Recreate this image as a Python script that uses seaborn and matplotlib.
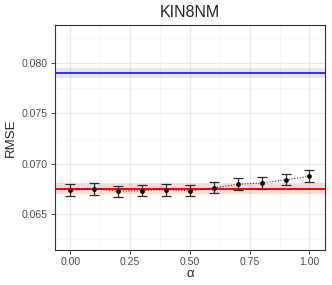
import numpy as np
import pandas as pd
import seaborn as sns
import matplotlib.pyplot as plt
from matplotlib.ticker import MultipleLocator

alpha_vals = [0.0, 0.1, 0.2, 0.3, 0.4, 0.5, 0.6, 0.7, 0.8, 0.9, 1.0]
rmse_mean = [0.06735, 0.06751, 0.06725, 0.06732, 0.06742, 0.06728, 0.06758, 0.06794, 0.06808, 0.06838, 0.06874]
rmse_err = [0.0006, 0.0006, 0.00055, 0.00055, 0.0006, 0.00055, 0.00055, 0.0006, 0.0006, 0.00055, 0.00058]

blue_ref = 0.07904
blue_band = 0.0005
red_ref = 0.06751
red_band = 0.00055

df = pd.DataFrame({"alpha": alpha_vals, "rmse": rmse_mean, "err": rmse_err})

sns.set_theme(style="whitegrid")
plt.rcParams['font.family'] = ['Liberation Sans', 'DejaVu Sans']

fig = plt.figure(figsize=(3.32, 2.85), dpi=100)
ax = fig.add_axes([0.1657, 0.1228, 0.8133, 0.7895])

# lignes de reference avec leur bande
ax.axhspan(blue_ref - blue_band, blue_ref + blue_band, color="blue", alpha=0.1, lw=0, zorder=1)
ax.axhline(blue_ref, color="blue", lw=1.1, zorder=2)
ax.axhspan(red_ref - red_band, red_ref + red_band, color="red", alpha=0.15, lw=0, zorder=1)
ax.axhline(red_ref, color="red", lw=1.4, zorder=2)

sns.lineplot(data=df, x="alpha", y="rmse", ax=ax, color="black", lw=0.8,
             linestyle=(0, (1, 1.5)), zorder=3, alpha=0.8)
ax.errorbar(df["alpha"], df["rmse"], yerr=df["err"], fmt="none", ecolor="#2a2a2a",
            elinewidth=0.9, capsize=3.5, capthick=0.9, zorder=4)
sns.scatterplot(data=df, x="alpha", y="rmse", ax=ax, color="black", s=10,
                edgecolor="black", zorder=5)

ax.set_xlim(-0.064, 1.065)
ax.set_ylim(0.0614, 0.0838)
ax.set_xticks([0.0, 0.25, 0.5, 0.75, 1.0])
ax.set_xticklabels(["0.00", "0.25", "0.50", "0.75", "1.00"])
ax.set_yticks([0.065, 0.070, 0.075, 0.080])
ax.set_yticklabels(["0.065", "0.070", "0.075", "0.080"])
ax.xaxis.set_minor_locator(MultipleLocator(0.125))
ax.yaxis.set_minor_locator(MultipleLocator(0.0025))

ax.grid(which="major", color="#EBEBEB", lw=0.8)
ax.grid(which="minor", color="#F4F4F4", lw=0.5)
ax.set_axisbelow(True)
for s in ax.spines.values():
    s.set_color("#333333")
    s.set_linewidth(0.8)

ax.tick_params(axis="both", which="major", length=3, width=0.6, color="#333333",
               labelsize=7.6, labelcolor="#4D4D4D", pad=2)
ax.tick_params(which="minor", length=0)
ax.tick_params(axis="both", which="major", bottom=True, left=True)

ax.set_xlabel("\u03b1", fontsize=9.5, labelpad=1)
ax.set_ylabel("RMSE", fontsize=9.5, labelpad=4)
ax.set_title("KIN8NM", fontsize=11.5, pad=6)

fig.savefig("out.png", dpi=100)
